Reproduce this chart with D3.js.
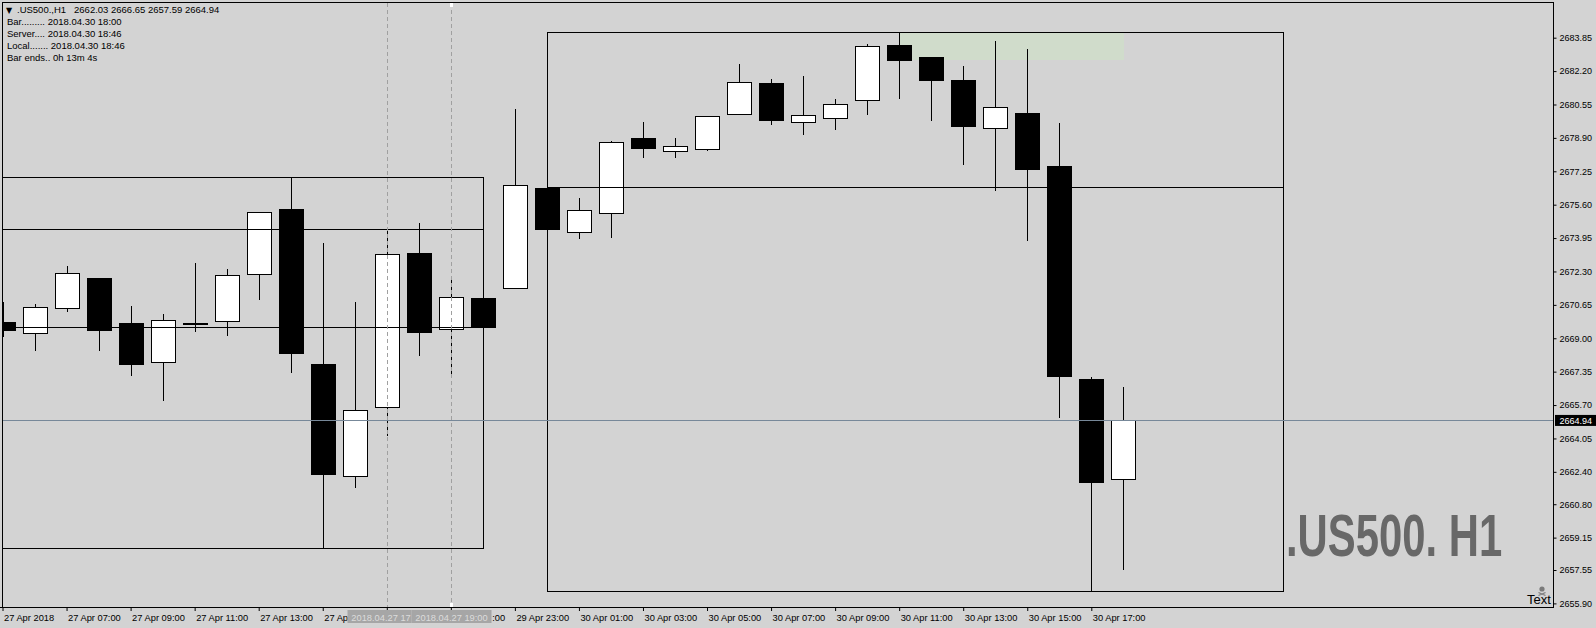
<!DOCTYPE html>
<html>
<head>
<meta charset="utf-8">
<script src="https://cdn.jsdelivr.net/npm/d3@7"></script>
<style>
  html, body { margin: 0; padding: 0; background: #d3d3d3; }
  svg { display: block; font-family: "Liberation Sans", Arial, sans-serif; }
</style>
</head>
<body>
<svg id="svg" width="1596" height="628"></svg>
<script>
// hourly bars, .US500 H1
var barTimes = [
  "2018.04.27 05:00","2018.04.27 06:00","2018.04.27 07:00","2018.04.27 08:00","2018.04.27 09:00",
  "2018.04.27 10:00","2018.04.27 11:00","2018.04.27 12:00","2018.04.27 13:00","2018.04.27 14:00",
  "2018.04.27 15:00","2018.04.27 16:00","2018.04.27 17:00","2018.04.27 18:00","2018.04.27 19:00",
  "2018.04.27 20:00","2018.04.29 23:00","2018.04.30 00:00","2018.04.30 01:00","2018.04.30 02:00",
  "2018.04.30 03:00","2018.04.30 04:00","2018.04.30 05:00","2018.04.30 06:00","2018.04.30 07:00",
  "2018.04.30 08:00","2018.04.30 09:00","2018.04.30 10:00","2018.04.30 11:00","2018.04.30 12:00",
  "2018.04.30 13:00","2018.04.30 14:00","2018.04.30 15:00","2018.04.30 16:00","2018.04.30 17:00",
  "2018.04.30 18:00"
];
var opens  = [2669.79,2669.25,2670.48,2671.98,2669.75,2667.84,2669.76,2669.84,2672.16,2675.37,
              2667.71,2662.18,2665.59,2673.20,2669.44,2670.99,2671.47,2676.44,2674.24,2675.17,
              2678.88,2678.27,2678.37,2680.07,2681.60,2679.67,2679.87,2680.76,2683.49,2682.89,
              2681.76,2679.40,2680.13,2677.51,2666.99,2662.03];
var highs  = [2670.84,2670.74,2672.62,2671.98,2670.64,2670.25,2672.77,2672.47,2675.22,2676.98,
              2673.76,2670.84,2674.35,2674.74,2672.04,2670.99,2680.38,2676.44,2675.98,2678.78,
              2679.73,2678.94,2680.03,2682.60,2681.86,2682.01,2680.87,2683.57,2684.12,2682.89,
              2682.50,2683.74,2683.35,2679.68,2667.14,2666.65];
var lows   = [2669.13,2668.42,2670.36,2668.42,2667.20,2665.96,2669.37,2669.18,2670.95,2667.35,
              2658.64,2661.67,2664.22,2668.17,2667.19,2669.54,2671.47,2674.41,2673.97,2674.02,
              2677.96,2677.96,2678.32,2680.07,2679.60,2679.11,2679.35,2680.10,2680.89,2679.80,
              2677.62,2676.34,2673.86,2665.12,2656.50,2657.59];
var closes = [2669.42,2670.53,2672.21,2669.42,2667.74,2669.89,2669.76,2672.11,2675.22,2668.29,
              2662.31,2665.44,2673.15,2669.32,2671.02,2669.54,2676.56,2674.41,2675.32,2678.68,
              2678.42,2678.48,2679.97,2681.65,2679.80,2680.02,2680.56,2683.43,2682.76,2681.78,
              2679.50,2680.41,2677.38,2667.15,2661.91,2664.94];

var priceTicks = [2683.85,2682.20,2680.55,2678.90,2677.25,2675.60,2673.95,2672.30,2670.65,
                  2669.00,2667.35,2665.70,2664.05,2662.40,2660.80,2659.15,2657.55,2655.90];
var bidPrice = 2664.94;

// chart objects: rectangles (bar from/to, price top/bottom) and their level lines
var boxBars   = [[-3, 15], [17, 40]];
var boxPrices = [[2676.98, 2658.64], [2684.12, 2656.50]];
var boxLevels = [[2674.38, 2669.56], [2676.46, 2664.96]];
var zoneBars   = [28, 35];
var zonePrices = [2684.12, 2682.82];
var vlineBars   = [12, 14];
var vlineLabels = ["2018.04.27 17:00", "2018.04.27 19:00"];

var infoLines = [
  ".US500.,H1\u00a0\u00a0 2662.03 2666.65 2657.59 2664.94",
  "Bar......... 2018.04.30 18:00",
  "Server.... 2018.04.30 18:46",
  "Local....... 2018.04.30 18:46",
  "Bar ends.. 0h 13m 4s"
];
var watermark = ".US500. H1";

var months = ["Jan","Feb","Mar","Apr","May","Jun","Jul","Aug","Sep","Oct","Nov","Dec"];

var svg = d3.select('#svg');
var W = 1596, H = 628;
var plotL = 2.5, plotT = 2.5, plotR = 1553.5, plotB = 607.5;

var x = d3.scaleLinear().domain([0, 34]).range([2.5, 1091.3]);
var y = d3.scaleLinear().domain([2655.90, 2683.85]).range([603.4, 37.7]);

function cx(i) { return Math.round(x(i)) + 0.5; }
function py(p) { return Math.round(y(p)) + 0.5; }

svg.append('rect').attr('width', W).attr('height', H).attr('fill', '#d3d3d3');

svg.append('defs').append('clipPath').attr('id', 'clip')
  .append('rect').attr('x', plotL + 0.5).attr('y', plotT + 0.5)
  .attr('width', plotR - plotL - 1).attr('height', plotB - plotT - 1);

var plot = svg.append('g').attr('clip-path', 'url(#clip)').attr('shape-rendering', 'crispEdges');

// filled zone sits behind the candles
plot.append('rect')
  .attr('x', cx(zoneBars[0]))
  .attr('y', py(zonePrices[0]))
  .attr('width', cx(zoneBars[1]) - cx(zoneBars[0]))
  .attr('height', py(zonePrices[1]) - py(zonePrices[0]))
  .attr('fill', '#d0dccb');

var candles = d3.range(opens.length).map(function(i) {
  return { i: i, o: opens[i], h: highs[i], l: lows[i], c: closes[i] };
});

plot.selectAll('line.wick').data(candles).enter().append('line')
  .attr('class', 'wick')
  .attr('x1', d => cx(d.i)).attr('x2', d => cx(d.i))
  .attr('y1', d => py(d.h)).attr('y2', d => py(d.l))
  .attr('stroke', '#000');

plot.selectAll('rect.body').data(candles).enter().append('rect')
  .attr('class', 'body')
  .attr('x', d => cx(d.i) - 12)
  .attr('y', d => py(Math.max(d.o, d.c)))
  .attr('width', 24)
  .attr('height', d => Math.max(1, py(Math.min(d.o, d.c)) - py(Math.max(d.o, d.c))))
  .attr('fill', d => d.c >= d.o ? '#fff' : '#000')
  .attr('stroke', '#000');

// rectangles and their levels
boxBars.forEach(function(b, k) {
  var x0 = cx(b[0]), x1 = cx(b[1]);
  plot.append('rect')
    .attr('x', x0).attr('y', py(boxPrices[k][0]))
    .attr('width', x1 - x0).attr('height', py(boxPrices[k][1]) - py(boxPrices[k][0]))
    .attr('fill', 'none').attr('stroke', '#000');
  boxLevels[k].forEach(function(p) {
    plot.append('line')
      .attr('x1', x0).attr('x2', x1).attr('y1', py(p)).attr('y2', py(p))
      .attr('stroke', '#000');
  });
});

// bid line
plot.append('line')
  .attr('x1', 0).attr('x2', plotR).attr('y1', py(bidPrice)).attr('y2', py(bidPrice))
  .attr('stroke', '#778899');

// vertical dashed lines
vlineBars.forEach(function(b) {
  plot.append('line')
    .attr('x1', cx(b)).attr('x2', cx(b)).attr('y1', plotT).attr('y2', plotB)
    .attr('stroke', '#a0a0a0').attr('stroke-dasharray', '4,3');
});
svg.append('rect').attr('x', cx(14) - 1.5).attr('y', 3).attr('width', 3).attr('height', 4).attr('fill', '#fff');
svg.append('rect').attr('x', cx(14) - 1.5).attr('y', 603).attr('width', 3).attr('height', 4).attr('fill', '#fff');

// watermark text, squeezed horizontally
svg.append('g').attr('transform', 'translate(1286,556) scale(0.697,1)')
  .append('text')
  .attr('x', 0).attr('y', 0)
  .attr('font-family', '"Liberation Sans", Arial, sans-serif')
  .attr('font-weight', 'bold').attr('font-size', 60)
  .attr('fill', '#686868')
  .text(watermark);

// "Text" label and its little icon
svg.append('circle').attr('cx', 1542).attr('cy', 589).attr('r', 2.6).attr('fill', '#7a7a7a');
svg.append('path').attr('d', 'M1538.5,592.5 L1545.5,595.5 M1538.5,595.5 L1545.5,592.5')
  .attr('stroke', '#7a7a7a').attr('stroke-width', 1.2);
svg.append('text').attr('x', 1527).attr('y', 603.5).attr('font-size', 13).attr('fill', '#000').text('Text');

// frame
svg.append('rect')
  .attr('x', plotL).attr('y', plotT).attr('width', plotR - plotL).attr('height', plotB - plotT)
  .attr('fill', 'none').attr('stroke', '#000').attr('shape-rendering', 'crispEdges');
svg.append('line').attr('x1', 0).attr('x2', plotR).attr('y1', plotB).attr('y2', plotB)
  .attr('stroke', '#000').attr('shape-rendering', 'crispEdges');

// info block top-left
svg.append('text').attr('x', 6).attr('y', 12.5)
  .attr('font-family', '"DejaVu Sans", sans-serif').attr('font-size', 8).attr('fill', '#000')
  .text('\u25BC');
var info = svg.append('g').attr('font-size', 9.5).attr('fill', '#000');
info.selectAll('text').data(infoLines).enter().append('text')
  .attr('x', (d, i) => i === 0 ? 17 : 7)
  .attr('y', (d, i) => 13 + i * 12)
  .text(d => d);

// price axis
var yAxis = d3.axisRight(y).tickValues(priceTicks).tickSize(3).tickPadding(3)
  .tickFormat(d3.format('.2f'));
var ya = svg.append('g').attr('transform', 'translate(' + plotR + ',0)').call(yAxis);
ya.select('.domain').remove();
ya.attr('font-family', '"Liberation Sans", Arial, sans-serif').attr('font-size', 9);
ya.selectAll('text').attr('fill', '#000');
ya.selectAll('line').attr('stroke', '#000');

// bid label on the price axis
svg.append('rect').attr('x', 1555).attr('y', y(bidPrice) - 5.5).attr('width', 41).attr('height', 11).attr('fill', '#000');
svg.append('text').attr('x', 1559.5).attr('y', y(bidPrice) + 3.3)
  .attr('font-size', 9).attr('fill', '#fff').text(bidPrice.toFixed(2));

// time axis
function fmtTime(i) {
  var s = barTimes[i];
  var day = s.slice(8, 10), mon = months[+s.slice(5, 7) - 1];
  if (i === 0) return day + ' ' + mon + ' ' + s.slice(0, 4);
  return day + ' ' + mon + ' ' + s.slice(11);
}
var labelIdx = d3.range(0, barTimes.length, 2);
var xAxis = d3.axisBottom(x).tickValues(labelIdx).tickSize(4).tickPadding(3.5).tickFormat(fmtTime);
var xa = svg.append('g').attr('transform', 'translate(0,' + (plotB - 0.5) + ')').call(xAxis);
xa.select('.domain').remove();
xa.attr('font-family', '"Liberation Sans", Arial, sans-serif').attr('font-size', 9.3);
xa.selectAll('text').attr('text-anchor', 'start').attr('x', 1).attr('fill', '#000');
xa.selectAll('line').attr('stroke', '#000');

// time labels of the vertical lines cover part of the axis labels,
// so only the parts still showing are kept (the grey boxes hide a pixel or two)
var boxW = 80;
var coverL = cx(vlineBars[0]) - boxW / 2, coverR = cx(vlineBars[vlineBars.length - 1]) + boxW / 2;
function textW(t, s) { t.text(s); return t.node().getComputedTextLength(); }
xa.selectAll('.tick').each(function(d) {
  var t = d3.select(this).select('text');
  var full = t.text();
  var start = x(d) + 1;
  var end = start + textW(t, full);
  if (start < coverL && end > coverL) {
    var s = full;
    while (s.length && start + textW(t, s) > coverL + 2) s = s.slice(0, -1);
    t.text(s);
  } else if (start >= coverL && start < coverR) {
    if (end <= coverR) { t.remove(); return; }
    var s2 = full;
    while (s2.length > 1 && end - textW(t, s2) < coverR - 2) s2 = s2.slice(1);
    t.text(s2).attr('x', 1 + (end - start) - textW(t, s2));
  }
});

vlineBars.forEach(function(b, k) {
  var g = svg.append('g');
  var left = cx(b) - boxW / 2;
  var right = k < vlineBars.length - 1 ? Math.min(cx(b) + boxW / 2, cx(vlineBars[k + 1]) - boxW / 2) : cx(b) + boxW / 2;
  g.append('rect').attr('x', left).attr('y', 610).attr('width', right - left).attr('height', 13).attr('fill', '#a6a6a6');
  var t = g.append('text').attr('y', 620.5).attr('font-size', 9.3).attr('fill', '#dcdcdc').text(vlineLabels[k]);
  var tStart = cx(b) - t.node().getComputedTextLength() / 2;
  t.attr('x', tStart);
  var s = vlineLabels[k];
  while (s.length && tStart + textW(t, s) > right + 1) s = s.slice(0, -1);
  t.text(s);
});
</script>
</body>
</html>
